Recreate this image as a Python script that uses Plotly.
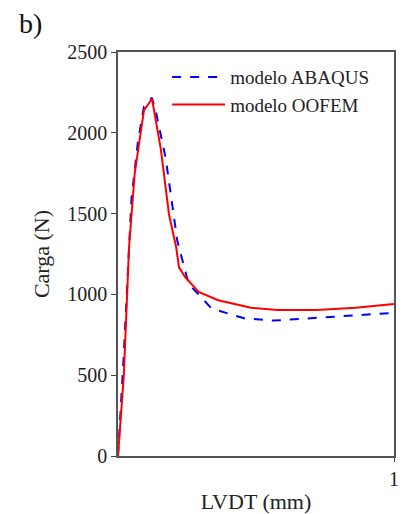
import plotly.graph_objects as go

# ABAQUS model (blue dashed)
abaqus_x = [0.0, 0.02, 0.049, 0.072, 0.094, 0.123, 0.138, 0.173, 0.215, 0.221, 0.256, 0.339, 0.457, 0.565, 0.695, 0.861, 1.0]
abaqus_y = [0, 600, 1595, 1942, 2162, 2217, 2125, 1840, 1330, 1290, 1065, 913, 852, 838, 852, 872, 886]

# OOFEM model (red solid)
oofem_x = [0.0, 0.021, 0.04, 0.0605, 0.094, 0.123, 0.155, 0.185, 0.211, 0.221, 0.244, 0.292, 0.363, 0.482, 0.577, 0.719, 0.861, 1.0]
oofem_y = [0, 495, 1290, 1748, 2139, 2211, 1901, 1493, 1290, 1167, 1106, 1015, 964, 917, 903, 903, 917, 940]

y_ticks = [0, 500, 1000, 1500, 2000, 2500]
x_ticks = [1]

FONT = "Liberation Serif"

fig = go.Figure()
fig.add_trace(go.Scatter(x=abaqus_x, y=abaqus_y, mode="lines", name="modelo ABAQUS",
                         line=dict(color="#0000ff", width=2, dash="dash")))
fig.add_trace(go.Scatter(x=oofem_x, y=oofem_y, mode="lines", name="modelo OOFEM",
                         line=dict(color="#ff0000", width=2)))

fig.update_layout(
    width=402, height=514,
    margin=dict(l=118, r=3, t=52, b=53),
    paper_bgcolor="white", plot_bgcolor="white",
    font=dict(family=FONT, size=20, color="#222"),
    showlegend=True,
    legend=dict(x=0.178, y=0.985, xanchor="left", yanchor="top",
                bgcolor="rgba(255,255,255,0)", font=dict(family=FONT, size=19, color="#222"),
                itemwidth=53, tracegroupgap=0),
    xaxis=dict(range=[0, 1], tickvals=x_ticks, ticks="outside", ticklen=4,
               showline=True, linecolor="#555", linewidth=1.5, mirror=True,
               showgrid=False, zeroline=False, tickfont=dict(size=20),
               title=dict(text="LVDT (mm)", font=dict(size=22), standoff=6)),
    yaxis=dict(range=[0, 2500], tickvals=y_ticks, ticks="outside", ticklen=5,
               showline=True, linecolor="#555", linewidth=1.5, mirror=True,
               showgrid=False, zeroline=False, tickfont=dict(size=20),
               title=dict(text="Carga (N)", font=dict(size=22), standoff=12)),
)
fig.add_annotation(text="b)", xref="paper", yref="paper", x=-0.367, y=1.071,
                   xanchor="left", yanchor="middle", showarrow=False,
                   font=dict(family=FONT, size=28, color="#111"))

fig.write_html(
    "out.html",
    config={"displayModeBar": False},
    post_script=(
        "document.documentElement.style.margin='0';"
        "document.body.style.margin='0';"
        "document.body.style.padding='0';"
        "document.body.style.overflow='hidden';"
        "window.scrollTo(0,0);"
    ),
)
